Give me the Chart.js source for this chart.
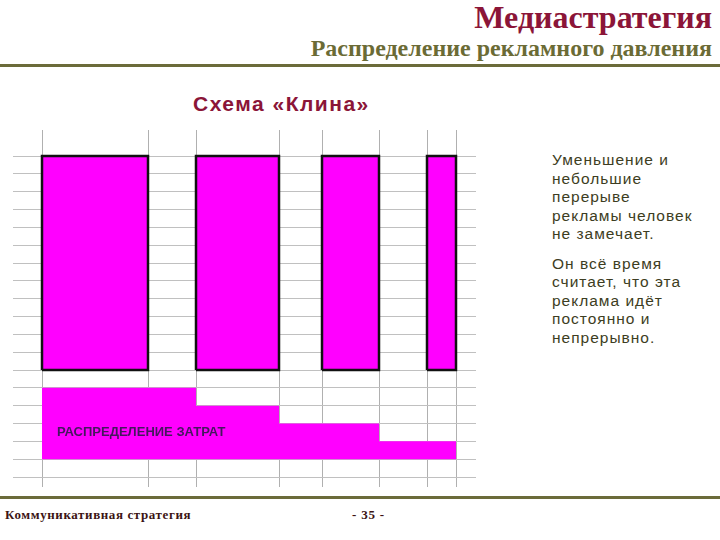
<!DOCTYPE html>
<html><head><meta charset="utf-8">
<script src="https://cdn.jsdelivr.net/npm/chart.js@4/dist/chart.umd.min.js"></script>
<style>
html,body{margin:0;padding:0;background:#fff;width:720px;height:540px;overflow:hidden;position:relative}
.t{position:absolute;white-space:nowrap}
#title{right:8px;top:-1px;font:bold 32px "Liberation Serif",serif;color:#8b1538}
#sub{right:8px;top:35px;font:bold 24px "Liberation Serif",serif;color:#6b6b35}
#line1{position:absolute;left:0;top:64px;width:720px;height:3px;background:#6b6b3a}
#line2{position:absolute;left:0;top:496px;width:720px;height:3px;background:#6b6b3a}
#scheme{left:193px;top:92px;font:bold 21px "Liberation Sans",Arial,sans-serif;color:#8b1538;letter-spacing:1.5px}
#side{position:absolute;left:552px;top:151px;font:15.5px "Liberation Sans",Arial,sans-serif;color:#3d3d22;line-height:18.5px;letter-spacing:1px}
#side p{margin:0 0 11px 0}
#foot{left:5px;top:507px;font:bold 13px "Liberation Serif",serif;color:#3c1414;letter-spacing:0.6px}
#page{left:352px;top:507px;font:bold 13px "Liberation Serif",serif;color:#3c1414;letter-spacing:0.8px}
#cv{position:absolute;left:13px;top:130px}
</style></head>
<body>
<div class="t" id="title">Медиастратегия</div>
<div class="t" id="sub">Распределение рекламного давления</div>
<div id="line1"></div>
<div class="t" id="scheme">Схема «Клина»</div>
<div id="side"><p>Уменьшение и<br>небольшие<br>перерыве<br>рекламы человек<br>не замечает.</p><p>Он всё время<br>считает, что эта<br>реклама идёт<br>постоянно и<br>непрерывно.</p></div>
<canvas id="cv" width="463" height="357"></canvas>
<div id="line2"></div>
<div class="t" id="foot">Коммуникативная стратегия</div>
<div class="t" id="page">- 35 -</div>
<script>
// Advertising flights (x in time units)
const flightStarts = [2.9, 18.3, 30.9, 41.4];
const flightEnds   = [13.5, 26.6, 36.6, 44.3];
const flightBottom = 6;
const flightTop    = 18;
// Cost distribution steps
const costEdges  = [2.9, 18.3, 26.6, 36.6, 44.3];
const costLevels = [5, 4, 3, 2];
const costBase   = 1;
const costLabel  = "РАСПРЕДЕЛЕНИЕ ЗАТРАТ";
const costLabelPos = [4.4, 2.5];
// Grid ticks
const xGridValues = [2.9, 13.5, 18.3, 26.6, 30.9, 36.6, 41.4, 44.3];
const yGridValues = [0,1,2,3,4,5,6,7,8,9,10,11,12,13,14,15,16,17,18];

const datasets = [];
// cost step polygon
const costPts = [{x: costEdges[0], y: costBase}];
costLevels.forEach((lv, i) => {
  costPts.push({x: costEdges[i], y: lv});
  costPts.push({x: costEdges[i+1], y: lv});
});
costPts.push({x: costEdges[costEdges.length-1], y: costBase});
costPts.push({x: costEdges[0], y: costBase});
datasets.push({data: costPts, showLine: true, fill: 'shape', backgroundColor: '#ff00ff',
  borderColor: '#ff00ff', borderWidth: 0, pointRadius: 0, tension: 0});
// flight rectangles
flightStarts.forEach((s, i) => {
  const e = flightEnds[i];
  datasets.push({data: [{x:s,y:flightBottom},{x:s,y:flightTop},{x:e,y:flightTop},{x:e,y:flightBottom},{x:s,y:flightBottom}],
    showLine: true, fill: 'shape', backgroundColor: '#ff00ff', borderColor: '#111111',
    borderWidth: 2.5, pointRadius: 0, tension: 0, borderJoinStyle: 'miter'});
});

const labelPlugin = {
  id: 'costLabel',
  afterDatasetsDraw(chart) {
    const {ctx, scales} = chart;
    ctx.save();
    ctx.font = 'bold 13px "Liberation Sans", Arial, sans-serif';
    ctx.fillStyle = '#45185e';
    ctx.textBaseline = 'middle';
    ctx.fillText(costLabel, scales.x.getPixelForValue(costLabelPos[0]), scales.y.getPixelForValue(costLabelPos[1]));
    ctx.restore();
  }
};

new Chart(document.getElementById('cv'), {
  type: 'scatter',
  data: {datasets},
  plugins: [labelPlugin],
  options: {
    responsive: false, animation: false,
    layout: {padding: 0},
    plugins: {legend: {display: false}, tooltip: {enabled: false}},
    scales: {
      x: {type: 'linear', min: 0, max: 46.3,
        afterBuildTicks: s => { s.ticks = xGridValues.map(v => ({value: v})); },
        ticks: {display: false}, border: {display: false},
        grid: {color: '#b0b0b0', lineWidth: 1, drawTicks: false}},
      y: {type: 'linear', min: -0.56, max: 19.46,
        afterBuildTicks: s => { s.ticks = yGridValues.map(v => ({value: v})); },
        ticks: {display: false}, border: {display: false},
        grid: {color: '#c0c0c0', lineWidth: 1, drawTicks: false}}
    }
  }
});
</script>
</body></html>
